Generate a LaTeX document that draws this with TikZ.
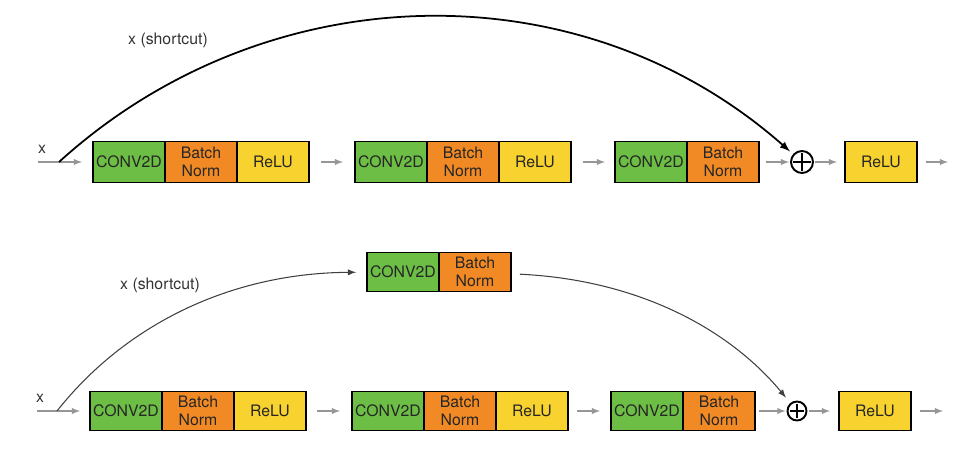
\documentclass[tikz,border=0pt]{standalone}
\usepackage{fontspec}
\setmainfont{TeX Gyre Heros}
\usetikzlibrary{positioning}

\definecolor{convgreen}{RGB}{108,190,69}
\definecolor{bnorange}{RGB}{241,138,36}
\definecolor{reluyellow}{RGB}{248,210,46}
\definecolor{flowgray}{RGB}{150,150,150}
\definecolor{labelgray}{RGB}{50,50,50}

\tikzset{
	block/.style = {draw, line width=1.1pt, outer sep=0pt, inner sep=0pt,
		minimum width=1.44cm, minimum height=0.82cm, align=center,
		text=black!85, font=\fontsize{9}{10.5}\selectfont},
	conv/.style = {block, fill=convgreen},
	bnorm/.style = {block, fill=bnorange},
	relu/.style = {block, fill=reluyellow},
	addop/.style = {circle, draw, line width=1.1pt, outer sep=0pt, inner sep=0pt, minimum size=#1},
	plusbar/.style = {line width=1.1pt, shorten <=1.3pt, shorten >=1.3pt},
	flow/.style = {flowgray, line width=0.6pt, -latex, shorten <=0.24cm, shorten >=0.24cm},
	skip/.style = {line width=0.6pt, -latex},
	lbl/.style = {text=labelgray, font=\fontsize{9}{10.5}\selectfont}
}

\begin{document}
\begin{tikzpicture}[x=0.02cm, y=-0.02cm]
		\useasboundingbox (0, 0) rectangle (953, 451);
		% plain block
		\coordinate (in1) at (38, 162);
		\coordinate (split1) at (59, 162);
		\node [lbl] (xin1) at (42, 149) {x};
		\node [conv, anchor=west] (c11) at (93, 162) {CONV2D};
		\node [bnorm, right=0pt of c11] (b11) {Batch\\Norm};
		\node [relu, right=0pt of b11] (r11) {ReLU};
		\node [conv, anchor=west] (c12) at (355, 162) {CONV2D};
		\node [bnorm, right=0pt of c12] (b12) {Batch\\Norm};
		\node [relu, right=0pt of b12] (r12) {ReLU};
		\node [conv, anchor=west] (c13) at (615, 162) {CONV2D};
		\node [bnorm, right=0pt of c13] (b13) {Batch\\Norm};
		\node [addop=0.44cm] (add1) at (802, 162) {};
		\draw [plusbar] (add1.north) -- (add1.south);
		\draw [plusbar] (add1.west) -- (add1.east);
		\node [relu, anchor=west] (r14) at (845, 162) {ReLU};
		\coordinate (out1) at (948, 162);
		\draw [flow, shorten <=0pt, shorten >=0.22cm] (in1) -- (c11);
		\draw [flow] (r11) -- (c12);
		\draw [flow, shorten >=0.2cm] (r12) -- (c13);
		\draw [flow, shorten <=0.14cm, shorten >=0.04cm] (b13) -- (add1);
		\draw [flow, shorten <=0.04cm, shorten >=0.16cm] (add1) -- (r14);
		\draw [flow, shorten <=0.18cm, shorten >=0pt] (r14) -- (out1);
		\draw [skip, line width=1pt, shorten >=0.1cm] (split1) .. controls (266, -26) and (580, -34) .. (add1);
		\node [lbl] (sc1) at (168, 40) {x (shortcut)};
		% projection block
		\coordinate (in2) at (37, 411);
		\coordinate (split2) at (57, 411);
		\node [lbl] (xin2) at (40, 398) {x};
		\node [conv, anchor=west, minimum height=0.78cm] (c21) at (90, 411) {CONV2D};
		\node [bnorm, right=0pt of c21, minimum height=0.78cm] (b21) {Batch\\Norm};
		\node [relu, right=0pt of b21, minimum height=0.78cm] (r21) {ReLU};
		\node [conv, anchor=west, minimum height=0.78cm] (c22) at (352, 411) {CONV2D};
		\node [bnorm, right=0pt of c22, minimum height=0.78cm] (b22) {Batch\\Norm};
		\node [relu, right=0pt of b22, minimum height=0.78cm] (r22) {ReLU};
		\node [conv, anchor=west, minimum height=0.78cm] (c23) at (611, 411) {CONV2D};
		\node [bnorm, right=0pt of c23, minimum height=0.78cm] (b23) {Batch\\Norm};
		\node [addop=0.38cm] (add2) at (797, 411) {};
		\draw [plusbar] (add2.north) -- (add2.south);
		\draw [plusbar] (add2.west) -- (add2.east);
		\node [relu, anchor=west, minimum height=0.78cm] (r24) at (839, 411) {ReLU};
		\coordinate (out2) at (943, 411);
		\node [conv, anchor=west, minimum height=0.78cm] (c25) at (367, 272) {CONV2D};
		\node [bnorm, right=0pt of c25, minimum height=0.78cm] (b25) {Batch\\Norm};
		\draw [flow, shorten <=0pt, shorten >=0.2cm] (in2) -- (c21);
		\draw [flow, shorten <=0.22cm] (r21) -- (c22);
		\draw [flow, shorten <=0.18cm, shorten >=0.22cm] (r22) -- (c23);
		\draw [flow, shorten <=0.08cm, shorten >=0.04cm] (b23) -- (add2);
		\draw [flow, shorten <=0.04cm, shorten >=0.18cm] (add2) -- (r24);
		\draw [flow, shorten <=0.18cm, shorten >=0pt] (r24) -- (out2);
		\draw [skip, black!75, shorten >=0.22cm] (split2) .. controls (125, 325) and (230, 273) .. (c25);
		\draw [skip, black!75, shorten <=0.18cm, shorten >=0.16cm] (b25) .. controls (640, 280) and (730, 330) .. (add2);
		\node [lbl] (sc2) at (160, 285) {x (shortcut)};
	\end{tikzpicture}
\end{document}
